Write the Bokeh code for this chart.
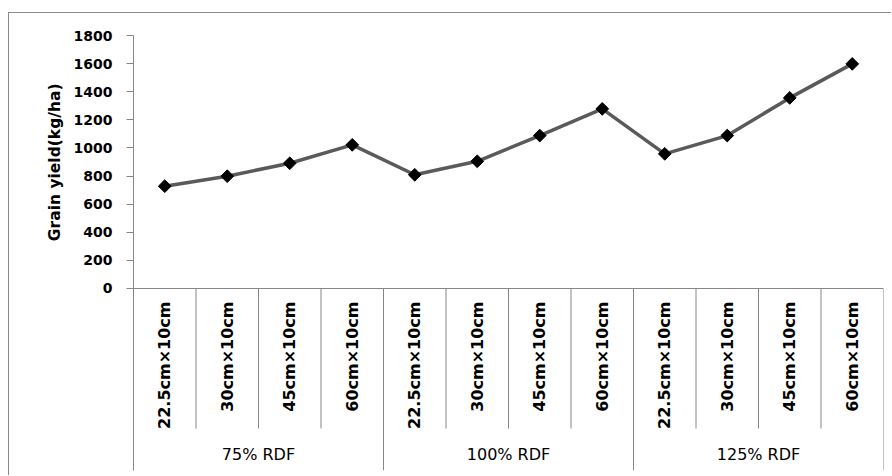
from math import pi
from bokeh.plotting import figure
from bokeh.models import FactorRange, Range1d, CategoricalAxis, FixedTicker, Title, ColumnDataSource
from bokeh.embed import file_html
from bokeh.resources import INLINE

# ---- data ----
groups = ["75% RDF", "100% RDF", "125% RDF"]
spacings = ["22.5cm×10cm", "30cm×10cm", "45cm×10cm", "60cm×10cm"]
grain_yield = [728, 799, 891, 1022, 809, 905, 1088, 1278, 958, 1088, 1356, 1598]
y_ticks = [0, 200, 400, 600, 800, 1000, 1200, 1400, 1600, 1800]
y_label = "Grain yield(kg/ha)"

factors = [(g, s) for g in groups for s in spacings]

GRID = "#868686"
FONT = "DejaVu Sans"

# layout constants (data units below zero are used for the label area)
Y_TOP = 1800
Y_BOTTOM = -1295
INNER_DIV_END = -996

p = figure(width=883, height=463,
           x_range=FactorRange(*factors, factor_padding=0, group_padding=0,
                               subgroup_padding=0, range_padding=0),
           y_range=Range1d(Y_BOTTOM, Y_TOP),
           output_backend="svg", toolbar_location=None,
           x_axis_location=None,
           min_border_left=124, min_border_right=9,
           min_border_top=22, min_border_bottom=6,
           margin=(12, 0, 0, 8))
p.styles = {"border-left": "1px solid #8a8a8a", "border-top": "1px solid #8a8a8a"}
p.outline_line_color = None
p.background_fill_color = "white"
p.border_fill_color = "white"
p.grid.visible = False

# y axis
ya = p.yaxis[0]
ya.ticker = FixedTicker(ticks=y_ticks)
ya.axis_line_color = GRID
ya.major_tick_line_color = GRID
ya.major_tick_out = 7
ya.major_tick_in = 0
ya.minor_tick_line_color = None
ya.major_label_standoff = 14
ya.major_label_text_font = FONT
ya.major_label_text_font_style = "bold"
ya.major_label_text_font_size = "14px"
ya.major_label_text_color = "black"

# y axis title (top-aligned, pushed down next to the 0..1800 part of the axis)
p.add_layout(Title(text=y_label, align="right", offset=48, standoff=14,
                   text_font=FONT, text_font_style="bold", text_font_size="15.5px",
                   text_color="black"), "left")

# x axis (nested categorical) fixed at y = 0
xa = CategoricalAxis(fixed_location=0)
xa.axis_line_color = GRID
xa.major_tick_line_color = None
xa.major_tick_out = 0
xa.major_tick_in = 0
xa.minor_tick_line_color = None
xa.major_label_orientation = pi / 2
xa.major_label_standoff = 13
xa.major_label_text_font = FONT
xa.major_label_text_font_style = "bold"
xa.major_label_text_font_size = "16px"
xa.major_label_text_color = "black"
xa.group_label_orientation = "horizontal"
xa.group_text_font = FONT
xa.group_text_font_style = "normal"
xa.group_text_font_size = "16px"
xa.group_text_color = "black"
xa.separator_line_color = None
p.add_layout(xa, "below")

# divider lines between categories
n = len(factors)
n_sub = len(spacings)
bounds = list(range(n + 1))
inner_x = [b for b in bounds if b % n_sub != 0]
group_x = [b for b in bounds if b % n_sub == 0]
p.segment(x0=inner_x, y0=[0] * len(inner_x), x1=inner_x, y1=[INNER_DIV_END] * len(inner_x),
          line_color=GRID, line_width=1)
p.segment(x0=group_x, y0=[0] * len(group_x), x1=group_x, y1=[Y_BOTTOM] * len(group_x),
          line_color=GRID, line_width=1)

# data line
src = ColumnDataSource(dict(x=factors, y=grain_yield))
p.line("x", "y", source=src, line_color="#5a5a5a", line_width=3.5)
p.scatter("x", "y", source=src, marker="square", angle=pi / 4, size=9,
          fill_color="black", line_color="black")

open("out.html", "w").write(file_html(p, INLINE))
